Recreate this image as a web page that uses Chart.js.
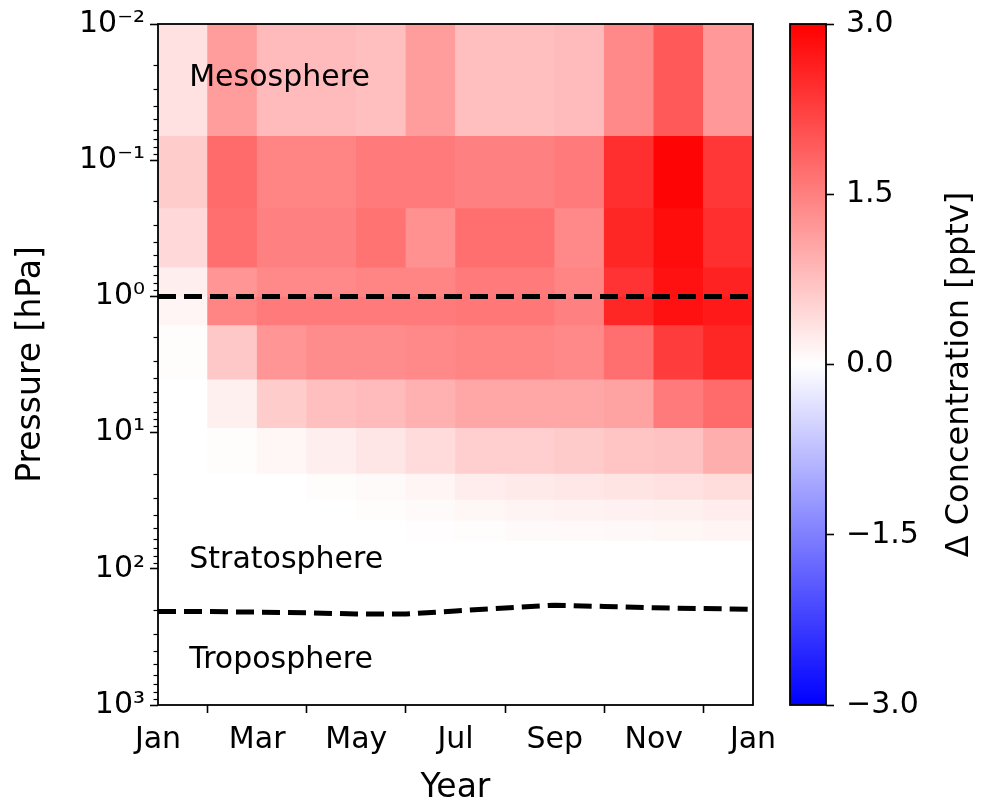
<!DOCTYPE html>
<html>
<head>
<meta charset="utf-8">
<script src="https://cdn.jsdelivr.net/npm/chart.js@4.4.1/dist/chart.umd.min.js"></script>
<style>
  html, body { margin: 0; padding: 0; background: #fff; }
  #wrap { position: relative; width: 982px; height: 804px; }
  #c-main { position: absolute; left: 0; top: 0; }
  #c-cbar { position: absolute; left: 770px; top: 0; }
</style>
</head>
<body>
<div id="wrap">
  <canvas id="c-main" width="982" height="804"></canvas>
  <canvas id="c-cbar" width="212" height="804"></canvas>
</div>
<script>
//////////////////////////////////////////////////
// Data

// x axis: months since 1 Jan
const monthTicks = [0, 2, 4, 6, 8, 10, 12]
const monthLabels = ['Jan', 'Mar', 'May', 'Jul', 'Sep', 'Nov', 'Jan']

// y axis: pressure [hPa]
const pressureTicks = [0.01, 0.1, 1, 10, 100, 1000]
const pressureLabels = ['10⁻²', '10⁻¹', '10⁰', '10¹', '10²', '10³']

// layer edges [hPa], top layer first
const levelEdges = [0.01, 0.066, 0.224, 0.61, 1.0, 1.62, 4.06, 9.2, 19.9, 31, 44, 62, 1000]

// Δ concentration [pptv], one row per layer, one value per month (Jan..Dec)
const deltaConc = [
  [0.35, 1.15, 0.80, 0.80, 0.75, 1.15, 0.75, 0.75, 0.80, 1.40, 1.95, 1.20],
  [0.60, 1.75, 1.45, 1.45, 1.55, 1.55, 1.50, 1.50, 1.55, 2.45, 2.95, 2.35],
  [0.45, 1.70, 1.50, 1.50, 1.65, 1.30, 1.70, 1.70, 1.40, 2.55, 2.85, 2.45],
  [0.20, 1.25, 1.40, 1.40, 1.45, 1.45, 1.55, 1.55, 1.45, 2.40, 2.80, 2.60],
  [0.12, 1.45, 1.55, 1.55, 1.55, 1.55, 1.60, 1.60, 1.50, 2.55, 2.80, 2.70],
  [0.04, 0.65, 1.25, 1.35, 1.35, 1.40, 1.45, 1.45, 1.40, 1.70, 2.30, 2.55],
  [0.00, 0.18, 0.60, 0.75, 0.80, 0.92, 1.05, 1.05, 1.05, 1.10, 1.55, 1.75],
  [0.00, 0.03, 0.10, 0.20, 0.30, 0.42, 0.58, 0.58, 0.62, 0.68, 0.72, 0.95],
  [0.00, 0.00, 0.00, 0.03, 0.06, 0.12, 0.22, 0.25, 0.28, 0.32, 0.35, 0.40],
  [0.00, 0.00, 0.00, 0.00, 0.03, 0.06, 0.10, 0.13, 0.15, 0.16, 0.18, 0.22],
  [0.00, 0.00, 0.00, 0.00, 0.00, 0.02, 0.04, 0.06, 0.07, 0.08, 0.10, 0.12],
  [0.00, 0.00, 0.00, 0.00, 0.00, 0.00, 0.00, 0.00, 0.00, 0.00, 0.00, 0.00]
]

// stratopause and tropopause [hPa] at month starts
const boundaryMonths = [0, 1, 2, 3, 4, 5, 6, 7, 8, 9, 10, 11, 12]
const stratopause = [1, 1, 1, 1, 1, 1, 1, 1, 1, 1, 1, 1, 1]
const tropopause = [206, 206, 208, 210, 215, 215, 204, 194, 185, 189, 193, 196, 198]

// colour bar
const cbarTicks = [-3, -1.5, 0, 1.5, 3]
const cbarMin = -3
const cbarMax = 3

//////////////////////////////////////////////////
// Helpers

const FONT = '"DejaVu Sans", sans-serif'
const FS = 30        // tick labels, annotations
const FS_TITLE = 33  // axis labels

// matplotlib 'bwr'
const bwr = (v) => {
  const t = Math.min(1, Math.max(0, (v - cbarMin) / (cbarMax - cbarMin)))
  let r, g, b
  if (t < 0.5) {
    r = g = 2 * t; b = 1
  } else {
    r = 1; g = b = 2 * (1 - t)
  }
  return `rgb(${Math.round(r * 255)},${Math.round(g * 255)},${Math.round(b * 255)})`
}

const noMargins = (s) => {
  s.paddingLeft = 0
  s.paddingRight = 0
  s.paddingTop = 0
  s.paddingBottom = 0
}

const frame = {
  id: 'frame',
  afterDraw (chart) {
    const { ctx, chartArea: a } = chart
    ctx.save()
    ctx.strokeStyle = '#000'
    ctx.lineWidth = 1.8
    ctx.strokeRect(a.left, a.top, a.right - a.left, a.bottom - a.top)
    ctx.restore()
  }
}

// minor log ticks on the pressure axis
const minorTicks = {
  id: 'minorTicks',
  afterDraw (chart) {
    const { ctx, scales: { y } } = chart
    ctx.save()
    ctx.strokeStyle = '#000'
    ctx.lineWidth = 1.2
    for (let e = -2; e < 3; ++e) {
      for (let k = 2; k <= 9; ++k) {
        const py = Math.round(y.getPixelForValue(k * Math.pow(10, e))) + 0.5
        ctx.beginPath()
        ctx.moveTo(y.right - 4.5, py)
        ctx.lineTo(y.right, py)
        ctx.stroke()
      }
    }
    ctx.restore()
  }
}

const regionLabels = [
  { text: 'Mesosphere', x: 0.63, p: 0.025 },
  { text: 'Stratosphere', x: 0.63, p: 86 },
  { text: 'Troposphere', x: 0.63, p: 470 }
]

const annotate = {
  id: 'annotate',
  afterDatasetsDraw (chart) {
    const { ctx, scales: { x, y } } = chart
    ctx.save()
    ctx.font = `${FS}px ${FONT}`
    ctx.fillStyle = '#000'
    ctx.textAlign = 'left'
    ctx.textBaseline = 'middle'
    for (const l of regionLabels) {
      ctx.fillText(l.text, x.getPixelForValue(l.x), y.getPixelForValue(l.p))
    }
    ctx.restore()
  }
}

//////////////////////////////////////////////////
// Main panel

const cellDatasets = deltaConc.map((row, r) => ({
  type: 'bar',
  order: 1,
  grouped: false,
  data: row.map((v, m) => ({ x: m + 0.5, y: [levelEdges[r], levelEdges[r + 1]] })),
  backgroundColor: row.map(bwr),
  borderWidth: 0,
  barPercentage: 1,
  categoryPercentage: 1
}))

const lineStyle = {
  type: 'line',
  order: 0,
  borderColor: '#000',
  borderWidth: 5,
  borderDash: [18, 8],
  pointRadius: 0,
  tension: 0,
  fill: false
}

new Chart(document.getElementById('c-main'), {
  type: 'bar',
  plugins: [minorTicks, annotate, frame],
  data: {
    datasets: [
      { ...lineStyle, data: boundaryMonths.map((m, i) => ({ x: m, y: stratopause[i] })) },
      { ...lineStyle, data: boundaryMonths.map((m, i) => ({ x: m, y: tropopause[i] })) },
      ...cellDatasets
    ]
  },
  options: {
    responsive: false,
    animation: false,
    layout: { padding: { top: 24, right: 229, left: 0, bottom: 0 } },
    plugins: { legend: { display: false }, tooltip: { enabled: false } },
    scales: {
      x: {
        type: 'linear',
        min: 0,
        max: 12,
        offset: false,
        afterBuildTicks: (s) => { s.ticks = monthTicks.map((v) => ({ value: v })) },
        afterFit: (s) => { s.height = 99; noMargins(s) },
        ticks: {
          autoSkip: false,
          maxRotation: 0,
          padding: 9,
          color: '#000',
          font: { family: FONT, size: FS },
          callback: (v) => monthLabels[monthTicks.indexOf(v)]
        },
        grid: { drawOnChartArea: false, tickLength: 8, tickColor: '#000', tickWidth: 1.6 },
        border: { display: false },
        title: { display: true, text: 'Year', color: '#000', font: { family: FONT, size: FS_TITLE, lineHeight: 0.8 }, padding: { top: 0, bottom: 2 } }
      },
      y: {
        type: 'logarithmic',
        min: 0.01,
        max: 1000,
        reverse: true,
        afterBuildTicks: (s) => { s.ticks = pressureTicks.map((v) => ({ value: v })) },
        afterFit: (s) => { s.width = 158; noMargins(s) },
        ticks: {
          autoSkip: false,
          padding: 5,
          color: '#000',
          font: { family: FONT, size: FS },
          callback: (v) => pressureLabels[pressureTicks.indexOf(v)]
        },
        grid: { drawOnChartArea: false, tickLength: 8, tickColor: '#000', tickWidth: 1.6 },
        border: { display: false },
        title: { display: true, text: 'Pressure [hPa]', color: '#000', font: { family: FONT, size: FS_TITLE, lineHeight: 1 }, padding: { top: 15, bottom: 0 } }
      }
    }
  }
})

//////////////////////////////////////////////////
// Colour bar

const cbarTitle = {
  id: 'cbarTitle',
  afterDraw (chart) {
    const { ctx, chartArea: a } = chart
    ctx.save()
    ctx.translate(a.right + 134, (a.top + a.bottom) / 2 + 10)
    ctx.rotate(-Math.PI / 2)
    ctx.font = `32px ${FONT}`
    ctx.fillStyle = '#000'
    ctx.textAlign = 'center'
    ctx.textBaseline = 'middle'
    ctx.fillText('Δ Concentration [pptv]', 0, 0)
    ctx.restore()
  }
}

new Chart(document.getElementById('c-cbar'), {
  type: 'bar',
  plugins: [cbarTitle, frame],
  data: {
    labels: [''],
    datasets: [{
      data: [[cbarMin, cbarMax]],
      borderWidth: 0,
      barPercentage: 1,
      categoryPercentage: 1,
      backgroundColor: (c) => {
        const { chart } = c
        const { ctx, chartArea, scales } = chart
        if (!chartArea) return bwr(0)
        const y0 = scales.y.getPixelForValue(cbarMax)
        const y1 = scales.y.getPixelForValue(cbarMin)
        const g = ctx.createLinearGradient(0, y0, 0, y1)
        g.addColorStop(0, bwr(cbarMax))
        g.addColorStop(0.5, bwr(0))
        g.addColorStop(1, bwr(cbarMin))
        return g
      }
    }]
  },
  options: {
    responsive: false,
    animation: false,
    layout: { padding: { top: 24, left: 20, right: 0, bottom: 99 } },
    plugins: { legend: { display: false }, tooltip: { enabled: false } },
    scales: {
      x: { display: false },
      y: {
        position: 'right',
        min: cbarMin,
        max: cbarMax,
        afterBuildTicks: (s) => { s.ticks = cbarTicks.map((v) => ({ value: v })) },
        afterFit: (s) => { s.width = 156; noMargins(s) },
        ticks: {
          autoSkip: false,
          padding: 12,
          color: '#000',
          font: { family: FONT, size: FS },
          callback: (v) => (v < 0 ? '−' : '') + Math.abs(v).toFixed(1)
        },
        grid: { drawOnChartArea: false, tickLength: 8, tickColor: '#000', tickWidth: 1.6 },
        border: { display: false }
      }
    }
  }
})
</script>
</body>
</html>
